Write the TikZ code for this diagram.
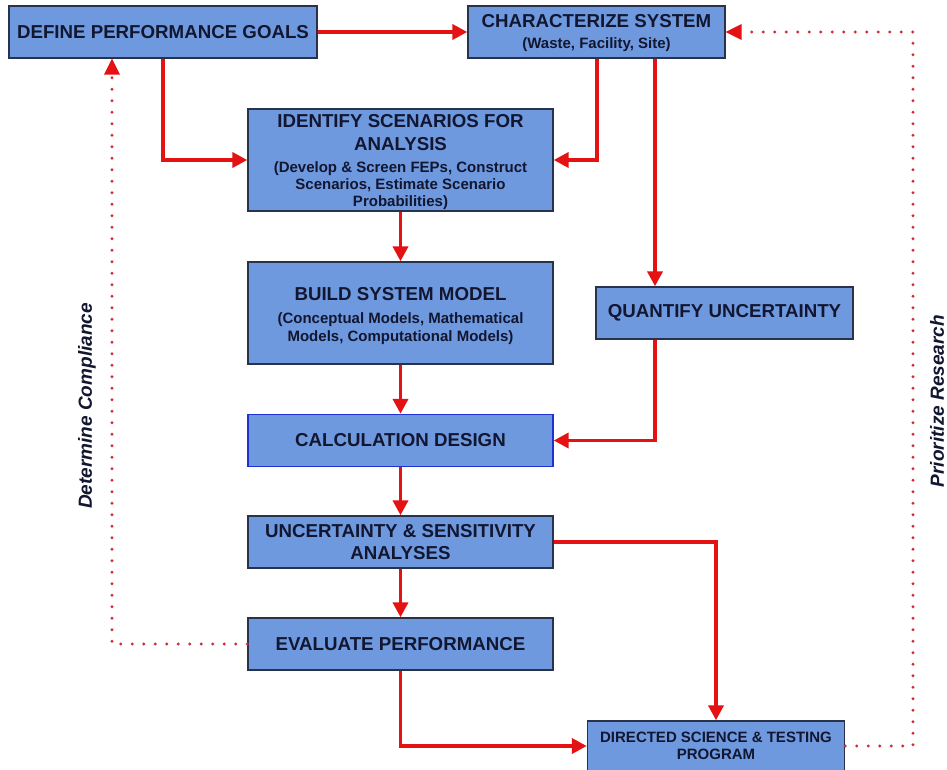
\documentclass[tikz,border=0pt]{standalone}
\usepackage{fontspec}
\setmainfont{Liberation Sans}
\usetikzlibrary{arrows.meta}
\definecolor{boxfill}{RGB}{110,153,222}
\definecolor{boxline}{RGB}{40,50,75}
\definecolor{calcline}{RGB}{30,50,210}
\definecolor{txt}{RGB}{18,22,48}
\definecolor{arr}{RGB}{228,18,18}
\definecolor{dotc}{RGB}{205,45,55}
\newcommand{\tfont}{\bfseries\fontsize{18.7}{22}\selectfont}
\newcommand{\sfontx}{\bfseries\fontsize{15}{17}\selectfont}
\newcommand{\tl}[2]{\baselineskip=#1pt\relax #2\par}
\tikzset{
  box/.style={draw=boxline, line width=1.4pt, fill=boxfill, text=txt, align=center, inner sep=0pt, minimum width=305pt, minimum height=52pt},
  flow/.style={draw=arr, line width=3.8pt, -{Triangle[length=15pt,width=15pt]}},
  dotline/.style={draw=dotc, line width=3.3pt, line cap=round, dash pattern=on 0pt off 11.5pt},
  vlabel/.style={rotate=90, text=txt, font=\bfseries\itshape\fontsize{19}{22}\selectfont}
}
\begin{document}
\begin{tikzpicture}[x=1pt,y=-1pt]
\useasboundingbox (0,0) rectangle (947,770);
\fill[white] (0,0) rectangle (947,770);
% boxes
\node[box, minimum width=308pt, font=\tfont] (goals) at (163,32) {DEFINE PERFORMANCE GOALS};
\node[box, minimum width=257pt] (char) at (596.5,32) {\parbox{250pt}{\centering\tfont\tl{22}{CHARACTERIZE SYSTEM}\sfontx\tl{21}{(Waste, Facility, Site)}\vspace{-3pt}}};
\node[box, minimum height=102pt] (scen) at (400.5,160) {\parbox{300pt}{\centering\tfont\tl{22}{IDENTIFY SCENARIOS FOR}\tl{23}{ANALYSIS}\sfontx\tl{22}{(Develop \& Screen FEPs, Construct}\tl{17}{Scenarios, Estimate Scenario}\tl{16.5}{Probabilities)}\vspace{-4pt}}};
\node[box, minimum height=102pt] (model) at (400.5,313) {\parbox{300pt}{\centering\tfont\tl{22}{BUILD SYSTEM MODEL}\sfontx\tl{23}{(Conceptual Models, Mathematical}\tl{18}{Models, Computational Models)}\vspace{-6pt}}};
\node[box, minimum width=257pt, font=\tfont] (quant) at (724.5,313) {QUANTIFY UNCERTAINTY};
\node[box, draw=calcline, font=\tfont] (calc) at (400.5,440.5) {CALCULATION DESIGN};
\node[box] (usa) at (400.5,542) {\parbox{300pt}{\centering\tfont\tl{22}{UNCERTAINTY \& SENSITIVITY}\tl{22}{ANALYSES}}};
\node[box, font=\tfont] (eval) at (400.5,644) {EVALUATE PERFORMANCE};
\node[box, minimum width=257pt, minimum height=50pt] (dst) at (716,746) {\parbox{250pt}{\centering\sfontx\tl{17}{DIRECTED SCIENCE \& TESTING}\tl{17}{PROGRAM}}};
% coordinates
\coordinate (c1) at (163,160);
\coordinate (c2) at (597,160);
\coordinate (c3) at (655,440.5);
\coordinate (c4) at (716,542);
\coordinate (c5) at (400.5,746);
\coordinate (d1) at (112,644);
\coordinate (d2) at (913,746);
\coordinate (d3) at (913,32);
% solid flows
\draw[flow] (goals.east) -- (char.west);
\draw[flow] (goals.south -| c1) -- (c1) -- (scen.west);
\draw[flow] (char.south -| c2) -- (c2) -- (scen.east);
\draw[flow] (char.south -| c3) -- (quant.north -| c3);
\draw[flow] (scen.south) -- (model.north);
\draw[flow] (model.south) -- (calc.north);
\draw[flow] (quant.south -| c3) -- (c3) -- (calc.east);
\draw[flow] (calc.south) -- (usa.north);
\draw[flow] (usa.south) -- (eval.north);
\draw[flow] (usa.east) -- (c4) -- (dst.north -| c4);
\draw[flow] (eval.south) -- (c5) -- (dst.west);
% dotted feedback
\draw[dotline] (eval.west) -- (d1) -- ([yshift=-16pt]goals.south -| d1);
\fill[arr] (goals.south -| d1) -- ++(-8,16) -- ++(16,0) -- cycle;
\draw[dotline] (dst.east) -- (d2) -- (d3) -- ([xshift=16pt]char.east);
\fill[arr] (char.east) -- ++(16,-8) -- ++(0,16) -- cycle;
% labels
\node[vlabel] (lab1) at (87,406) {Determine Compliance};
\node[vlabel] (lab2) at (937,401) {Prioritize Research};
\end{tikzpicture}
\end{document}
